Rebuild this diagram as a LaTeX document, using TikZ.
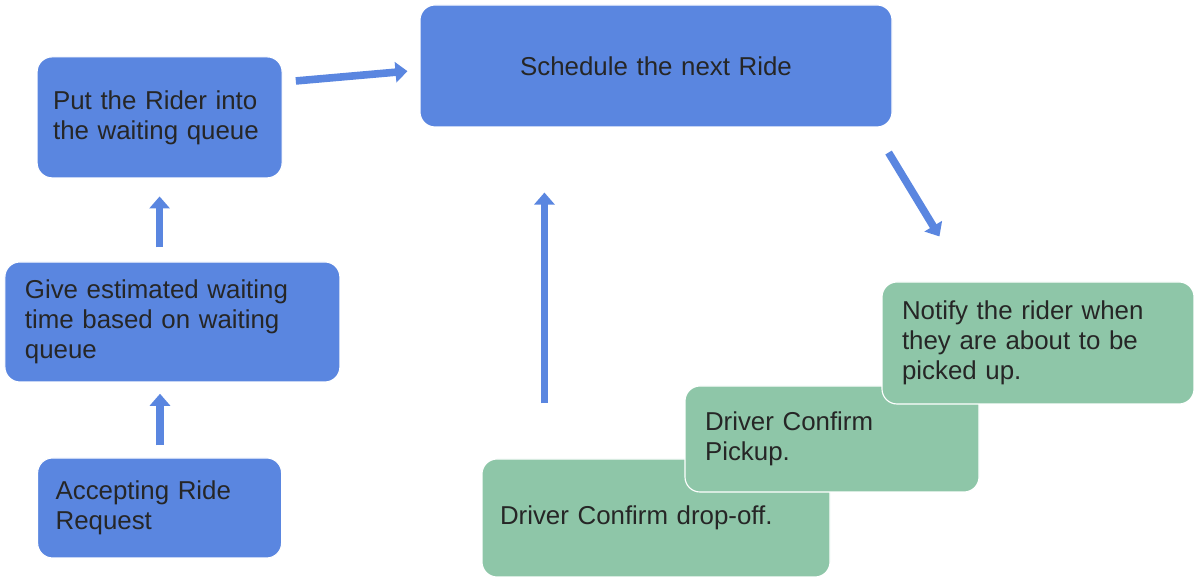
\documentclass[tikz,border=0pt]{standalone}
\usepackage{fontspec}
\setmainfont{Liberation Sans}
\usepackage{tikz}
\usetikzlibrary{arrows.meta,positioning,calc}
\definecolor{boxblue}{HTML}{5A86E0}
\definecolor{boxgreen}{HTML}{8EC6A8}
\tikzstyle{bb}=[rectangle, rounded corners=0.375cm, fill=boxblue, draw=white, line width=0.8pt, inner xsep=0.5cm, inner ysep=0pt, align=left, text=black!85, font=\fontsize{18.4}{21.3}\selectfont]
\tikzstyle{gb}=[bb, fill=boxgreen]
\tikzstyle{flow}=[color=boxblue, line width=0.19cm, -{Triangle[width=0.5cm,length=0.3cm]}]

\begin{document}
\begin{tikzpicture}
 \useasboundingbox (0,0) rectangle (29.85,14.475);
 \node[bb, text width=5.325cm, minimum height=3.025cm, inner xsep=0.4cm] (put) at (3.99,11.54) {Put the Rider into\\the waiting queue};
 \node[bb, text width=10.8cm, minimum height=3.05cm, align=center] (sched) at (16.4,12.825) {Schedule the next Ride};
 \node[bb, text width=7.375cm, minimum height=3.0cm] (give) at (4.31,6.425) {Give estimated waiting\\time based on waiting\\queue};
 \node[bb, text width=5.2cm, minimum height=2.5cm, inner xsep=0.45cm] (accept) at (3.99,1.775) {Accepting Ride\\Request};
 \node[gb, text width=7.8cm, minimum height=2.95cm, inner xsep=0.45cm] (drop) at (16.4,1.525) {Driver Confirm drop-off.};
 \node[gb, text width=6.35cm, minimum height=2.65cm] (pickup) at (20.8,3.5) {Driver Confirm\\Pickup.};
 \node[gb, text width=6.8cm, minimum height=3.05cm] (notify) at (25.95,5.9) {Notify the rider when\\they are about to be\\picked up.};

 \coordinate (ntail) at ([shift={(-0.1,-0.625)}]sched.south east);
 \coordinate (nhead) at ([shift={(1.45,1.125)}]notify.north west);
 \coordinate (dtail) at ([shift={(1.575,1.375)}]drop.north west);

 \draw[flow, shorten <=0.3cm, shorten >=0.28cm] ([xshift=0.01cm]accept.north) -- ([xshift=0.01cm]accept.north |- give.south);
 \draw[flow, shorten <=0.35cm, shorten >=0.45cm] (give.north -| put.south) -- (put.south);
 \draw[flow, shorten <=0.33cm, shorten >=0.3cm] (put.16) -- (sched.181);
 \draw[flow] (ntail) -- (nhead);
 \draw[flow, shorten >=1.625cm] (dtail) -- (dtail |- sched.south);
\end{tikzpicture}
\end{document}
